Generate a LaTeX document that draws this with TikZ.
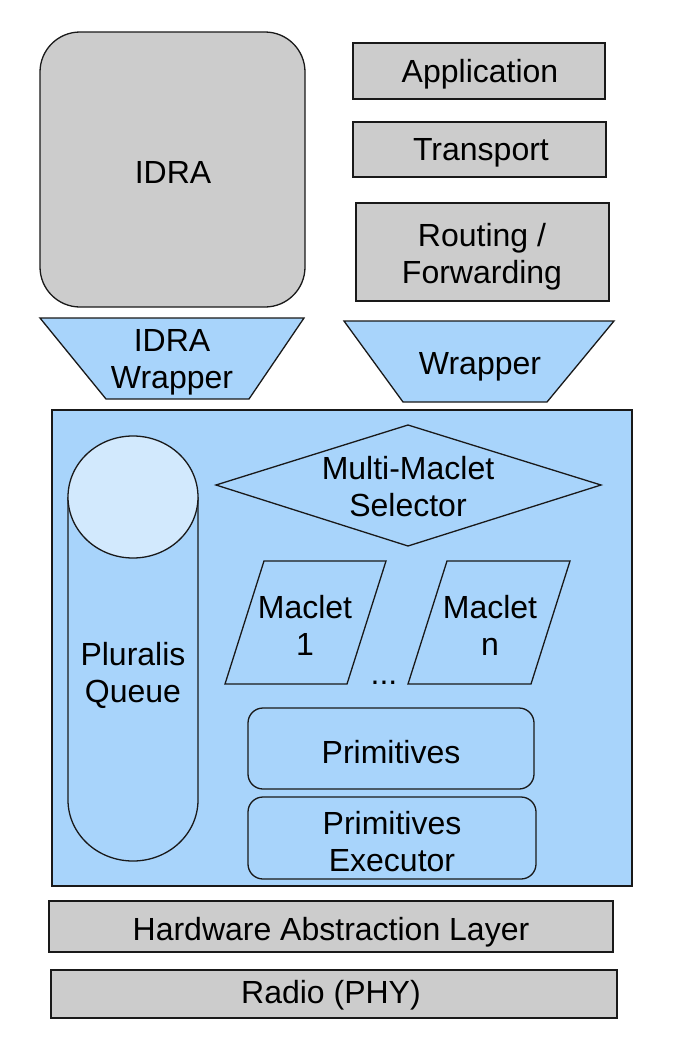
\documentclass[tikz,border=0pt]{standalone}
\usepackage{xcolor}
\usepackage{fontspec}
\setmainfont{Liberation Sans}
\usepackage{tikz}
\usetikzlibrary{positioning, calc}
\definecolor{layergray}{rgb}{0.80, 0.80, 0.80}
\definecolor{macblue}{HTML}{A8D4FB}
\definecolor{queuetop}{HTML}{D2E9FD}

\tikzset{
  graybox/.style={draw=black!90, fill=layergray},
  bluebox/.style={draw=black!90, fill=macblue},
  lbl/.style={draw=none, text=black, align=center, inner sep=0pt, font=\fontsize{32}{37}\selectfont}
}

\begin{document}
\begin{tikzpicture}[x=1pt, y=1pt, line width=1.3pt]
\useasboundingbox (0,0) rectangle (685,-1058);
\pgfmathsetmacro{\qrx}{65}
\pgfmathsetmacro{\qry}{61}
\pgfmathsetmacro{\skew}{39}

% upper stack
\draw[graybox, rounded corners=40pt] (40,-32) rectangle (305,-307);
\draw[graybox] (353,-43) rectangle (605,-99);
\draw[graybox] (353,-122) rectangle (606,-177);
\draw[graybox] (356,-203) rectangle (609,-301);
\node[lbl] (idra) at (173,-172) {IDRA};
\node[lbl] (app) at (480,-74) {Application};
\node[lbl] (transport) at (481,-153) {Transport};
\node[lbl] (routing) at (482,-257) {Routing /\\Forwarding};

% wrappers
\draw[bluebox] (40,-318) -- (304,-318) -- (249,-399) -- (106,-399) -- cycle;
\draw[bluebox] (344,-321) -- (614,-321) -- (547,-402) -- (403,-402) -- cycle;
\node[lbl] (idrawrap) at (172,-362) {IDRA\\Wrapper};
\node[lbl] (wrap) at (480,-367) {Wrapper};

% maclet layer
\draw[bluebox] (52,-410) rectangle (632,-886);
\draw[bluebox] (68,-497) -- (68,-800) arc[start angle=180, end angle=360, x radius=\qrx pt, y radius=\qry pt] -- (198,-497);
\draw[draw=black!90, fill=queuetop] (133,-497) ellipse[x radius=\qrx pt, y radius=\qry pt];
\node[lbl] (queue) at (133,-675) {Pluralis\\Queue};

\draw[bluebox] (216,-485) -- (408,-425) -- (601,-485) -- (408,-546) -- cycle;
\node[lbl] (selector) at (408,-487) {Multi-Maclet\\Selector};

\draw[bluebox] (225+\skew,-561) -- (386,-561) -- (386-\skew,-684) -- (225,-684) -- cycle;
\draw[bluebox] (408+\skew,-561) -- (570,-561) -- (570-\skew,-684) -- (408,-684) -- cycle;
\node[lbl] (maclet1) at (305,-625) {Maclet\\1};
\node[lbl] (macletn) at (490,-625) {Maclet\\n};
\node[lbl, anchor=base] (dots) at (384,-684) {...};

\draw[bluebox, rounded corners=15pt] (248,-708) rectangle (534,-789);
\draw[bluebox, rounded corners=15pt] (248,-797) rectangle (536,-879);
\node[lbl] (prim) at (391,-752) {Primitives};
\node[lbl] (exec) at (392,-842) {Primitives\\Executor};

% bottom layers
\draw[graybox] (49,-901) rectangle (613,-952);
\draw[graybox] (51,-970) rectangle (617,-1018);
\node[lbl] (hal) at (331,-932) {Hardware Abstraction Layer};
\node[lbl] (radio) at (331,-995) {Radio (PHY)};
\end{tikzpicture}
\end{document}
